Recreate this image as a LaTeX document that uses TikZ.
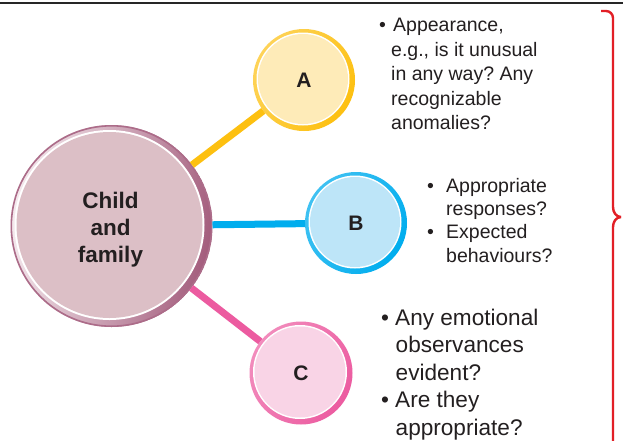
\documentclass[tikz,border=0pt]{standalone}
\usepackage{fontspec}
\setmainfont{Liberation Sans}
\frenchspacing
\definecolor{txt}{HTML}{231F20}
\definecolor{yring}{HTML}{FDC010}
\definecolor{yfill}{HTML}{FEEBB8}
\definecolor{cring}{HTML}{00ADEE}
\definecolor{cfill}{HTML}{BDE5F8}
\definecolor{pring}{HTML}{EC5BA0}
\definecolor{pfill}{HTML}{F9D4E6}
\definecolor{mring}{HTML}{A35C7C}
\definecolor{mlight}{HTML}{F5EAEE}
\definecolor{mfill}{HTML}{DCBFC6}
\definecolor{bracered}{HTML}{E21F26}
\newcommand{\bul}[1]{\makebox[#1][l]{\textbullet}}
\newcommand{\ind}[1]{\hspace*{#1}}
\begin{document}
\begin{tikzpicture}[x=1pt,y=-1pt,
  bubble/.style={circle, inner sep=0pt, outer sep=0pt, text=txt},
  link/.style={line width=7pt},
  bullettext/.style={anchor=north west, align=left, inner sep=0pt, text=txt}]
\useasboundingbox (0,0) rectangle (623,440);
\fill[white] (0,0) rectangle (623,440);
% top rule
\coordinate (r1) at (0,3);
\coordinate (r2) at (623,3);
\draw[line width=1.2pt, black!85] (r1) -- (r2);

% main circle
\node[bubble, minimum size=202pt, left color=mlight, right color=mring, shading angle=80,
  path picture={
    \fill[white] ([shift={(-2,-1)}]path picture bounding box.center) circle (95pt);
    \fill[mfill] ([shift={(-2,-1)}]path picture bounding box.center) circle (93pt);
    \draw[mring!90, line width=1.6pt] (path picture bounding box.center) circle (100.2pt);
  }] (M) at (111.5,226) {};
\node[font=\fontsize{22.5}{27}\selectfont\bfseries, align=center, text=txt, inner sep=0pt]
  (Mt) at (110.5,229.5) {Child\\and\\family};

% A
\node[bubble, minimum size=102pt, left color=yring!70!white, right color=yring, shading angle=60,
  font=\fontsize{21}{25}\selectfont\bfseries,
  path picture={
    \fill[white] ([shift={(-1,-1)}]path picture bounding box.center) circle (46.5pt);
    \fill[yfill] ([shift={(-1,-1)}]path picture bounding box.center) circle (45pt);
  }] (A) at (304,80) {A};

% B
\node[bubble, minimum size=102pt, left color=cring!75!white, right color=cring, shading angle=60,
  font=\fontsize{21}{25}\selectfont\bfseries,
  path picture={
    \fill[white] ([shift={(-1,-1)}]path picture bounding box.center) circle (46.5pt);
    \fill[cfill] ([shift={(-1,-1)}]path picture bounding box.center) circle (45pt);
  }] (B) at (356,223) {B};

% C
\node[bubble, minimum size=103pt, left color=pring!70!white, right color=pring, shading angle=60,
  font=\fontsize{21}{25}\selectfont\bfseries,
  path picture={
    \fill[white] ([shift={(-1,-1)}]path picture bounding box.center) circle (47pt);
    \fill[pfill] ([shift={(-1,-1)}]path picture bounding box.center) circle (45.5pt);
  }] (C) at (301,373) {C};

% connectors
\draw[link, yring] (M) -- (A);
\draw[link, cring] (M) -- (B);
\draw[link, pring] (M) -- (C);

% texts
\node[bullettext, font=\fontsize{19.5}{24.5}\selectfont] (tA) at (379,18)
  {\bul{14pt}Appearance,\\
   \ind{12pt}e.g., is it unusual\\
   \ind{12pt}in any way? Any\\
   \ind{12pt}recognizable\\
   \ind{12pt}anomalies?};
\node[bullettext, font=\fontsize{19.5}{23.3}\selectfont] (tB) at (427,178)
  {\bul{19pt}Appropriate\\
   \ind{19pt}responses?\\
   \bul{19pt}Expected\\
   \ind{19pt}behaviours?};
\node[bullettext, font=\fontsize{22.6}{27.5}\selectfont] (tC) at (381,308.5)
  {\bul{14pt}Any emotional\\
   \ind{14.5pt}observances\\
   \ind{14.5pt}evident?\\
   \bul{14pt}Are they\\
   \ind{14.5pt}appropriate?};

% brace
\coordinate (b0) at (601,11);
\coordinate (btip) at (621,217);
\coordinate (bend) at (613,442);
\draw[bracered, line width=2.4pt, line join=round]
  (b0) -- (606,11) to[out=0,in=90] (613,18) -- (613,207) to[out=-90,in=180] (btip)
  (btip) to[out=180,in=90] (613,227) -- (bend);
\end{tikzpicture}
\end{document}
